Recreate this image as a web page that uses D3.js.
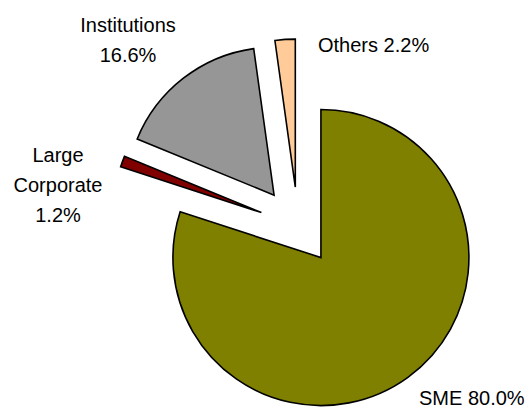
<!DOCTYPE html>
<html>
<head>
<meta charset="utf-8">
<script src="https://cdn.jsdelivr.net/npm/d3@7"></script>
<style>
  html, body { margin: 0; padding: 0; background: #fff; }
  svg { display: block; }
  .label { font-family: "Liberation Sans", Arial, sans-serif; font-size: 20px; fill: #000; }
</style>
</head>
<body>
<div id="chart"></div>
<script>
// segments, clockwise from 12 o'clock
const categories = ['SME', 'Large Corporate', 'Institutions', 'Others'];
const shares = [80.0, 1.2, 16.6, 2.2];
const labelLines = [
  ['SME 80.0%'],
  ['Large', 'Corporate', '1.2%'],
  ['Institutions', '16.6%'],
  ['Others 2.2%']
];

const colors = ['#808000', '#800000', '#969696', '#ffcc99'];

const width = 528;
const height = 410;
const cx = 298;
const cy = 226;
const radius = 148;
const explode = 39;

// where each label sits, relative to the pie centre
const labelLayout = [
  { dx: 121, dy: 179, anchor: 'start' },
  { dx: -240, dy: -64, anchor: 'middle' },
  { dx: -170, dy: -194, anchor: 'middle' },
  { dx: 20, dy: -174, anchor: 'start' }
];

const svg = d3.select('#chart')
  .append('svg')
  .attr('width', width)
  .attr('height', height);

const data = categories.map(function(name, i) {
  return { name: name, value: shares[i], idx: i };
});

const pie = d3.pie()
  .sort(null)
  .value(function(d) { return d.value; });

const arc = d3.arc()
  .innerRadius(0)
  .outerRadius(radius);

const g = svg.append('g')
  .attr('transform', 'translate(' + cx + ',' + cy + ')');

g.selectAll('path.slice')
  .data(pie(data))
  .enter()
  .append('path')
  .attr('class', 'slice')
  .attr('transform', function(d) {
    const mid = (d.startAngle + d.endAngle) / 2;
    return 'translate(' + (explode * Math.sin(mid)) + ',' + (-explode * Math.cos(mid)) + ')';
  })
  .attr('d', arc)
  .attr('fill', function(d) { return colors[d.data.idx]; })
  .attr('stroke', '#000')
  .attr('stroke-width', 1.6)
  .attr('stroke-linejoin', 'miter');

const lineGap = 30;

g.selectAll('text.label')
  .data(data)
  .enter()
  .append('text')
  .attr('class', 'label')
  .attr('text-anchor', function(d) { return labelLayout[d.idx].anchor; })
  .attr('x', function(d) { return labelLayout[d.idx].dx; })
  .attr('y', function(d) { return labelLayout[d.idx].dy; })
  .each(function(d) {
    const lay = labelLayout[d.idx];
    d3.select(this)
      .selectAll('tspan')
      .data(labelLines[d.idx])
      .enter()
      .append('tspan')
      .attr('x', lay.dx)
      .attr('dy', function(t, j) { return j === 0 ? 0 : lineGap; })
      .text(String);
  });
</script>
</body>
</html>
